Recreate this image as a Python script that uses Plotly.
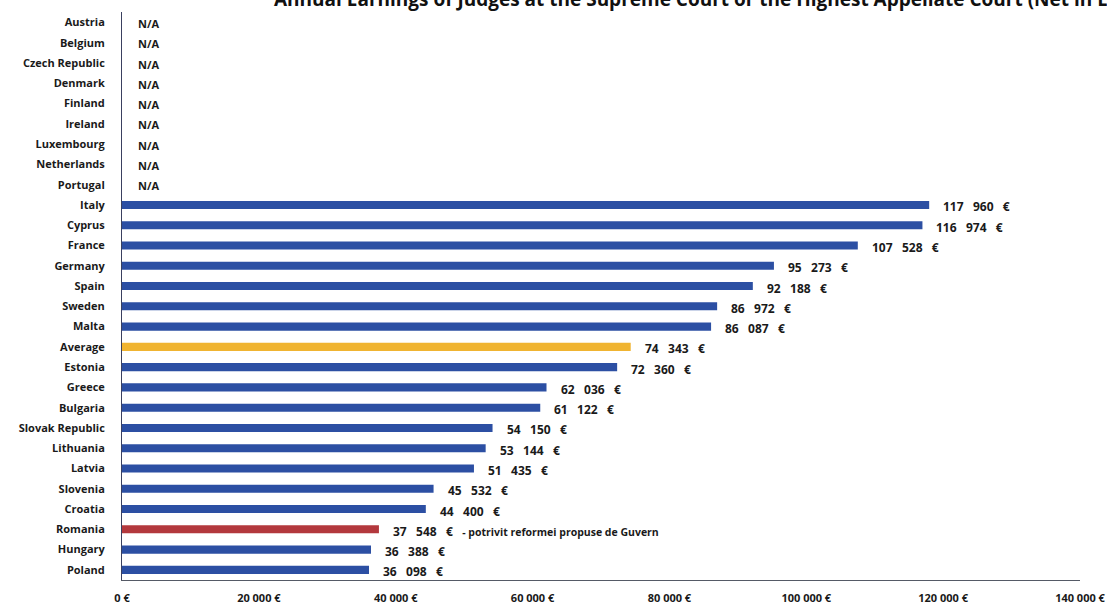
import plotly.graph_objects as go

countries = ["Austria", "Belgium", "Czech Republic", "Denmark", "Finland", "Ireland",
             "Luxembourg", "Netherlands", "Portugal", "Italy", "Cyprus", "France",
             "Germany", "Spain", "Sweden", "Malta", "Average", "Estonia", "Greece",
             "Bulgaria", "Slovak Republic", "Lithuania", "Latvia", "Slovenia",
             "Croatia", "Romania", "Hungary", "Poland"]
salaries = [None, None, None, None, None, None, None, None, None,
            117960, 116974, 107528, 95273, 92188, 86972, 86087, 74343, 72360,
            62036, 61122, 54150, 53144, 51435, 45532, 44400, 37548, 36388, 36098]
notes = {"Romania": "- potrivit reformei propuse de Guvern"}
tick_values = [0, 20000, 40000, 60000, 80000, 100000, 120000, 140000]
tick_labels = ["0 €", "20 000 €", "40 000 €", "60 000 €", "80 000 €",
               "100 000 €", "120 000 €", "140 000 €"]
title_text = ("Annual Earnings of Judges at the Supreme Court or the Highest "
              "Appellate Court (Net in EUR)")

BLUE = "#2c4fa3"
AVG = "#f0b431"
ROM = "#b3383d"

colors = []
for c in countries:
    if c == "Average":
        colors.append(AVG)
    elif c == "Romania":
        colors.append(ROM)
    else:
        colors.append(BLUE)

fig = go.Figure()
fig.add_trace(go.Bar(
    x=salaries, y=countries, orientation="h",
    marker=dict(color=colors, line=dict(width=0)),
    hoverinfo="skip", showlegend=False,
))

nb = "\u00a0"
lab_font = dict(family="Open Sans", size=12, color="#1a1a1a", weight="bold")
annotations = []
for c, v in zip(countries, salaries):
    if v is None:
        annotations.append(dict(x=0, y=c, xref="x", yref="y", text="N/A",
                                showarrow=False, xanchor="left", xshift=14, yshift=-1,
                                font=dict(family="Open Sans", size=11, color="#1a1a1a", weight="bold")))
    else:
        txt = f"{v // 1000}{nb*3}{v % 1000:03d}{nb*3}€"
        if c in notes:
            txt += nb * 3 + "<span style='font-size:10.5px'>" + notes[c] + "</span>"
        annotations.append(dict(x=v, y=c, xref="x", yref="y", text=txt,
                                showarrow=False, xanchor="left", xshift=12, yshift=-2,
                                font=lab_font))

# chart title (cut off at the top edge, as in the reference)
annotations.append(dict(x=0, xref="paper", y=1, yref="paper", text=title_text,
                        showarrow=False, xanchor="left", yanchor="middle",
                        xshift=150, yshift=13,
                        font=dict(family="Open Sans", size=19, color="#111111", weight="bold")))

fig.update_layout(
    width=1107, height=605,
    margin=dict(l=122, r=27, t=12, b=25, autoexpand=False),
    paper_bgcolor="white", plot_bgcolor="white",
    bargap=0.6,
    annotations=annotations,
    xaxis=dict(range=[0, 140000], tickvals=tick_values, ticktext=tick_labels,
               showgrid=False, zeroline=False, showline=True, linecolor="#555a66",
               linewidth=1, ticks="outside", ticklen=8, tickcolor="rgba(0,0,0,0)",
               tickfont=dict(family="Open Sans", size=11, color="#1a1a1a", weight="bold"),
               automargin=False, fixedrange=True),
    yaxis=dict(categoryorder="array", categoryarray=countries, autorange="reversed",
               showgrid=False, zeroline=False, showline=True, linecolor="#3a4060",
               linewidth=1, ticks="", ticklabelstandoff=14,
               tickfont=dict(family="Open Sans", size=11, color="#1a1a1a", weight="bold"),
               automargin=False, fixedrange=True),
)

fig.write_html("out.html", config={"displayModeBar": False},
               post_script="document.body.style.margin='0px';document.body.style.overflow='hidden';")
